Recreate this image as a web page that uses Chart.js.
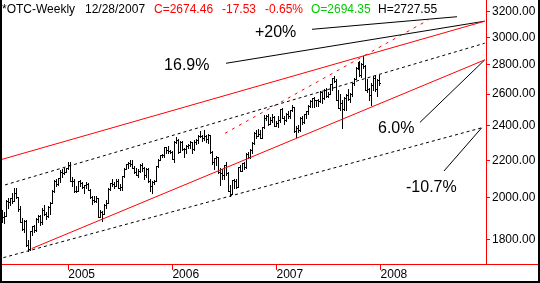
<!DOCTYPE html>
<html><head><meta charset="utf-8">
<script src="https://cdn.jsdelivr.net/npm/chart.js@4/dist/chart.umd.min.js"></script>
<style>
html,body{margin:0;padding:0;background:#fff;}
#frame{position:relative;width:540px;height:283px;box-sizing:border-box;border-left:2px solid #000;border-right:2px solid #000;border-bottom:2px solid #000;overflow:hidden;font-family:"Liberation Sans",Arial,sans-serif;background:#fff;}
#c{position:absolute;left:0;top:0;}
.hd{position:absolute;top:2px;font-size:12px;line-height:14px;white-space:pre;color:#000;}
.red{color:#ff0000;} .grn{color:#00cc00;}
</style></head><body>
<div id="frame">
<canvas id="c" width="536" height="281"></canvas>
<span class="hd" style="left:0px">*OTC-Weekly</span>
<span class="hd" style="left:83px">12/28/2007</span>
<span class="hd red" style="left:152px">C=2674.46</span>
<span class="hd red" style="left:220px">-17.53</span>
<span class="hd red" style="left:263px">-0.65%</span>
<span class="hd grn" style="left:309px">O=2694.35</span>
<span class="hd" style="left:376px">H=2727.55</span>
</div>
<script>
// ---- weekly bars (week ending Friday) ----
const dates = [
"2004-05-14","2004-05-21","2004-05-28","2004-06-04","2004-06-11","2004-06-18","2004-06-25","2004-07-02","2004-07-09","2004-07-16","2004-07-23","2004-07-30","2004-08-06","2004-08-13","2004-08-20","2004-08-27","2004-09-03","2004-09-10","2004-09-17","2004-09-24","2004-10-01","2004-10-08","2004-10-15","2004-10-22","2004-10-29","2004-11-05","2004-11-12","2004-11-19","2004-11-26","2004-12-03","2004-12-10","2004-12-17","2004-12-24","2004-12-31",
"2005-01-07","2005-01-14","2005-01-21","2005-01-28","2005-02-04","2005-02-11","2005-02-18","2005-02-25","2005-03-04","2005-03-11","2005-03-18","2005-03-25","2005-04-01","2005-04-08","2005-04-15","2005-04-22","2005-04-29","2005-05-06","2005-05-13","2005-05-20","2005-05-27","2005-06-03","2005-06-10","2005-06-17","2005-06-24","2005-07-01","2005-07-08","2005-07-15","2005-07-22","2005-07-29","2005-08-05","2005-08-12","2005-08-19","2005-08-26","2005-09-02","2005-09-09","2005-09-16","2005-09-23","2005-09-30","2005-10-07","2005-10-14","2005-10-21","2005-10-28","2005-11-04","2005-11-11","2005-11-18","2005-11-25","2005-12-02","2005-12-09","2005-12-16","2005-12-23","2005-12-30",
"2006-01-06","2006-01-13","2006-01-20","2006-01-27","2006-02-03","2006-02-10","2006-02-17","2006-02-24","2006-03-03","2006-03-10","2006-03-17","2006-03-24","2006-03-31","2006-04-07","2006-04-14","2006-04-21","2006-04-28","2006-05-05","2006-05-12","2006-05-19","2006-05-26","2006-06-02","2006-06-09","2006-06-16","2006-06-23","2006-06-30","2006-07-07","2006-07-14","2006-07-21","2006-07-28","2006-08-04","2006-08-11","2006-08-18","2006-08-25","2006-09-01","2006-09-08","2006-09-15","2006-09-22","2006-09-29","2006-10-06","2006-10-13","2006-10-20","2006-10-27","2006-11-03","2006-11-10","2006-11-17","2006-11-24","2006-12-01","2006-12-08","2006-12-15","2006-12-22","2006-12-29",
"2007-01-05","2007-01-12","2007-01-19","2007-01-26","2007-02-02","2007-02-09","2007-02-16","2007-02-23","2007-03-02","2007-03-09","2007-03-16","2007-03-23","2007-03-30","2007-04-06","2007-04-13","2007-04-20","2007-04-27","2007-05-04","2007-05-11","2007-05-18","2007-05-25","2007-06-01","2007-06-08","2007-06-15","2007-06-22","2007-06-29","2007-07-06","2007-07-13","2007-07-20","2007-07-27","2007-08-03","2007-08-10","2007-08-17","2007-08-24","2007-08-31","2007-09-07","2007-09-14","2007-09-21","2007-09-28","2007-10-05","2007-10-12","2007-10-19","2007-10-26","2007-11-02","2007-11-09","2007-11-16","2007-11-23","2007-11-30","2007-12-07","2007-12-14","2007-12-21","2007-12-28"
];
const openV = [
1930,1904,1912,1986,1978,1999,1986,2025,2006,1946,1883,1849,1887,1777,1757,1838,1862,1844,1895,1911,1880,1942,1920,1912,1953,1975,2038,2086,2070,2102,2138,2130,2135,2155,
2175,2088,2087,2034,2035,2086,2076,2058,2065,2071,2041,2007,1991,1984,1999,1908,1932,1922,1967,1977,2046,2075,2071,2063,2090,2053,2057,2112,2152,2179,2185,2177,2157,2136,2120,2141,2175,2160,2117,2152,2090,2064,2082,2090,2169,2202,2227,2232,2273,2256,2252,2249,
2205,2305,2317,2247,2304,2262,2262,2282,2287,2302,2262,2306,2313,2340,2339,2326,2342,2323,2343,2244,2193,2210,2219,2135,2130,2121,2172,2130,2037,2020,2094,2085,2057,2163,2141,2184,2165,2236,2218,2258,2300,2357,2342,2351,2330,2390,2445,2460,2413,2438,2457,2401,
2415,2434,2502,2451,2435,2475,2459,2496,2515,2368,2387,2372,2448,2421,2471,2491,2526,2557,2572,2563,2559,2557,2613,2573,2627,2589,2603,2666,2708,2688,2562,2511,2544,2505,2576,2596,2566,2602,2671,2702,2780,2805,2726,2804,2795,2627,2637,2596,2661,2709,2635,2694.35
];
const highV = [
1940,1930,1990,2000,2000,2025,2050,2050,2006,1960,1900,1890,1890,1800,1840,1865,1870,1900,1915,1915,1950,1965,1930,1960,1980,2040,2095,2100,2105,2145,2150,2160,2160,2191,
2191,2110,2100,2060,2090,2095,2080,2065,2080,2075,2045,2010,2010,2010,2000,1940,1935,1970,1990,2050,2075,2097,2080,2100,2100,2070,2115,2155,2180,2190,2200,2200,2170,2160,2150,2180,2185,2165,2160,2160,2100,2090,2095,2170,2205,2230,2235,2275,2273,2278,2260,2250,
2310,2332,2320,2310,2310,2270,2285,2290,2310,2305,2315,2320,2345,2370,2345,2375,2345,2350,2345,2250,2215,2225,2220,2160,2150,2175,2190,2135,2065,2095,2100,2100,2165,2175,2185,2190,2240,2245,2265,2305,2360,2375,2380,2375,2395,2465,2465,2470,2455,2470,2460,2430,
2460,2505,2510,2460,2480,2490,2500,2531,2520,2400,2405,2455,2460,2475,2490,2530,2560,2575,2580,2565,2570,2620,2615,2635,2640,2615,2668,2710,2725,2700,2630,2600,2560,2580,2600,2635,2610,2675,2710,2785,2820,2830,2810,2861,2800,2700,2640,2675,2720,2725,2700,2727.55
];
const lowV = [
1880,1876,1910,1950,1965,1975,1985,2000,1935,1880,1845,1835,1770,1750,1755,1820,1835,1840,1880,1870,1875,1915,1895,1905,1920,1975,2030,2060,2065,2080,2110,2125,2135,2150,
2085,2060,2030,2030,2035,2060,2050,2025,2050,2040,2000,1970,1980,1980,1908,1905,1889,1920,1950,1975,2040,2060,2050,2060,2050,2040,2040,2110,2150,2160,2170,2160,2130,2120,2110,2135,2140,2100,2110,2080,2035,2025,2070,2090,2165,2200,2220,2220,2240,2240,2240,2205,
2190,2300,2240,2245,2260,2220,2240,2270,2270,2240,2260,2290,2300,2335,2310,2315,2305,2300,2240,2180,2150,2175,2130,2065,2100,2100,2120,2035,2012,2020,2050,2050,2055,2140,2140,2150,2160,2215,2215,2240,2295,2325,2340,2330,2325,2385,2435,2405,2410,2425,2400,2400,
2395,2425,2450,2410,2430,2450,2445,2490,2360,2331,2365,2370,2410,2415,2450,2475,2515,2520,2520,2525,2525,2550,2540,2570,2580,2580,2600,2630,2680,2560,2510,2500,2386,2500,2500,2565,2550,2590,2660,2700,2770,2725,2715,2780,2625,2615,2560,2530,2630,2620,2590,2660
];
const closeV = [
1904,1912,1986,1978,1999,1986,2025,2006,1946,1883,1849,1887,1777,1757,1838,1862,1844,1895,1911,1880,1942,1920,1912,1953,1975,2038,2086,2070,2102,2138,2130,2135,2155,2175,
2088,2087,2034,2035,2086,2076,2058,2065,2071,2041,2007,1991,1984,1999,1908,1932,1922,1967,1977,2046,2075,2071,2063,2090,2053,2057,2112,2152,2179,2185,2177,2157,2136,2120,2141,2175,2160,2117,2152,2090,2064,2082,2090,2169,2202,2227,2232,2273,2256,2252,2249,2205,
2305,2317,2247,2304,2262,2262,2282,2287,2302,2262,2306,2313,2340,2339,2326,2342,2323,2343,2244,2193,2210,2219,2135,2130,2121,2172,2130,2037,2020,2094,2085,2057,2163,2141,2184,2165,2236,2218,2258,2300,2357,2342,2351,2330,2390,2445,2460,2413,2438,2457,2401,2415,
2434,2502,2451,2435,2475,2459,2496,2515,2368,2387,2372,2448,2421,2471,2491,2526,2557,2572,2563,2559,2557,2613,2573,2627,2589,2603,2666,2708,2688,2562,2511,2544,2505,2576,2596,2566,2602,2671,2702,2780,2805,2726,2804,2795,2627,2637,2596,2661,2709,2635,2692,2674.46
];
const yearTicks = [2005, 2006, 2007, 2008];
const priceTicks = [1800, 2000, 2200, 2400, 2600, 2800, 3000, 3200];

// ---- channel / trend lines: [decimal year, value] endpoints ----
const upperChannel = [[2004.363, 2205], [2009.0, 3126.4]];
const upperMidline = [[2004.392, 2067], [2009.0, 2957]];
const lowerChannel = [[2004.648, 1760], [2009.0, 2835]];
const lowerMidline = [[2004.376, 1720], [2008.971, 2388]];
const steepTrend = [[2006.505, 2355], [2008.458, 3136]];

// ---- callouts (text + pointer line, in data units) ----
const callouts = [
  {text:'+20%',  tx:2006.793, ty:3004, from:[2007.341, 3063], to:[2008.734, 3162]},
  {text:'16.9%', tx:2005.92,  ty:2764, from:[2006.515, 2811], to:[2009.0, 3126.4]},
  {text:'6.0%',  tx:2007.975, ty:2357, from:[2008.378, 2421], to:[2009.0, 2835]},
  {text:'-10.7%',tx:2008.244, ty:2030, from:[2008.609, 2141], to:[2008.971, 2388]}
];

function decYear(s){
  const [y,m,d] = s.split('-').map(Number);
  const t = Date.UTC(y,m-1,d), a = Date.UTC(y,0,1), b = Date.UTC(y+1,0,1);
  return y + (t-a)/(b-a);
}
const pts = arr => arr.map(p => ({x:p[0], y:p[1]}));

const ohlcPlugin = {
  id:'ohlc',
  beforeDatasetsDraw(chart){
    const {ctx, scales:{x, y}, chartArea:a} = chart;
    ctx.save();
    ctx.beginPath(); ctx.rect(a.left, a.top, a.right-a.left, a.bottom-a.top); ctx.clip();
    ctx.fillStyle = '#000';
    for (let i=0;i<dates.length;i++){
      const px = Math.round(x.getPixelForValue(decYear(dates[i])));
      const yh = Math.round(y.getPixelForValue(highV[i]));
      const yl = Math.round(y.getPixelForValue(lowV[i]));
      const yo = Math.round(y.getPixelForValue(openV[i]));
      const yc = Math.round(y.getPixelForValue(closeV[i]));
      ctx.fillRect(px, yh, 1, yl-yh+1);
      ctx.fillRect(px-1, yo, 1, 1);
      ctx.fillRect(px+1, yc, 1, 1);
    }
    ctx.restore();
  },
  afterDatasetsDraw(chart){
    const {ctx, scales:{x, y}} = chart;
    ctx.save();
    ctx.fillStyle = '#000';
    ctx.font = '16px "Liberation Sans", Arial, sans-serif';
    ctx.textBaseline = 'alphabetic';
    ctx.textAlign = 'left';
    callouts.forEach(c => ctx.fillText(c.text, x.getPixelForValue(c.tx), y.getPixelForValue(c.ty)));
    ctx.restore();
  },
  afterDraw(chart){
    const {ctx, chartArea:a, width} = chart;
    ctx.save();
    ctx.strokeStyle = '#ff0000'; ctx.lineWidth = 1;
    ctx.beginPath();
    ctx.moveTo(a.right, Math.round(a.bottom)+0.5);
    ctx.lineTo(width, Math.round(a.bottom)+0.5);
    ctx.stroke();
    ctx.restore();
  }
};

const lineDs = (data, color, dash) => ({
  type:'line', data: pts(data), borderColor: color, borderWidth: 1,
  borderDash: dash || [], pointRadius: 0, fill: false, tension: 0
});

const datasets = [
  lineDs(upperChannel, '#ff0000'),
  lineDs(lowerChannel, '#ff0000'),
  lineDs(upperMidline, '#000000', [3,3]),
  lineDs(lowerMidline, '#000000', [3,3]),
  lineDs(steepTrend, '#ff0000', [3,5])
];
callouts.forEach(c => datasets.push(lineDs([c.from, c.to], '#000000')));

Chart.defaults.font.family = '"Liberation Sans", Arial, sans-serif';
Chart.defaults.font.size = 12;
Chart.defaults.color = '#000';

new Chart(document.getElementById('c'), {
  type:'line',
  data:{ datasets },
  options:{
    responsive:false, animation:false, devicePixelRatio:1, events:[],
    layout:{ padding:0 },
    plugins:{ legend:{display:false}, tooltip:{enabled:false} },
    scales:{
      x:{
        type:'linear', position:'bottom', min:2004.363, max:2009.0125,
        afterBuildTicks: s => { s.ticks = yearTicks.map(v => ({value:v})); },
        afterFit: s => { s.height = 17; s.paddingLeft = 0; s.paddingRight = 0; },
        grid:{ drawOnChartArea:false, drawTicks:true, tickLength:6, color:'#ff0000' },
        border:{ display:true, color:'#ff0000', width:1 },
        ticks:{ autoSkip:false, maxRotation:0, align:'start', padding:-3, color:'#000',
                callback: v => String(v) }
      },
      y:{
        type:'logarithmic', position:'right', min:1692.6, max:3298.5,
        afterBuildTicks: s => { s.ticks = priceTicks.map(v => ({value:v})); },
        afterFit: s => { s.width = 52; s.paddingTop = 0; s.paddingBottom = 0; },
        grid:{ drawOnChartArea:false, drawTicks:true, tickLength:4, color:'#ff0000' },
        border:{ display:true, color:'#ff0000', width:1 },
        ticks:{ autoSkip:false, padding:2, color:'#000', callback: v => Number(v).toFixed(2) }
      }
    }
  },
  plugins:[ohlcPlugin]
});
</script>
</body></html>
